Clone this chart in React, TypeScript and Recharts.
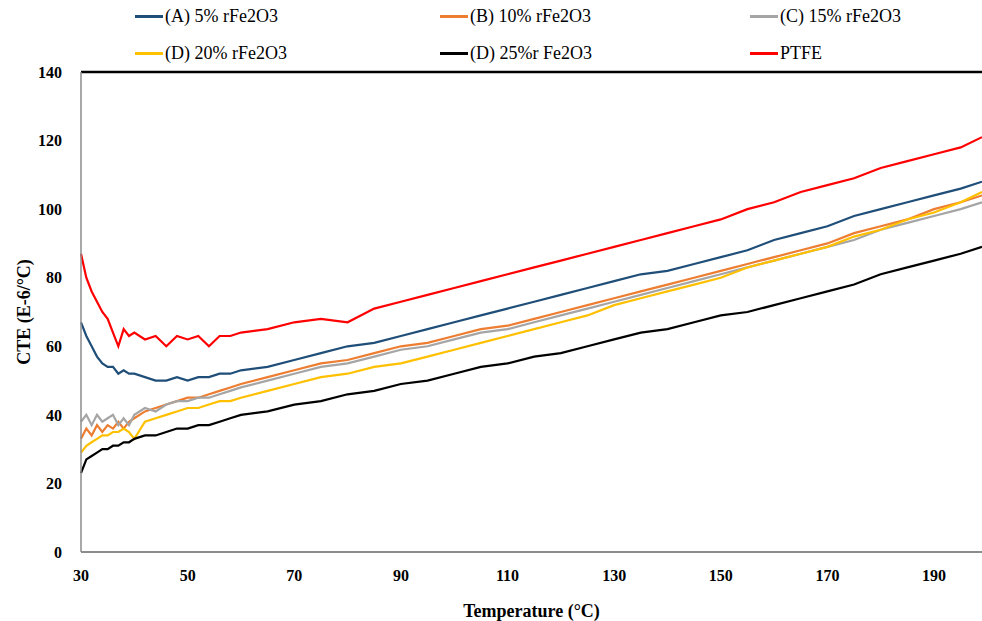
import React from "react";
import {
  LineChart,
  Line,
  XAxis,
  YAxis,
  ReferenceLine,
} from "recharts";

// temperature (°C) sample points
const temps = [
  30, 31, 32, 33, 34, 35, 36, 37, 38, 39, 40, 42, 44, 46, 48, 50, 52, 54, 56, 58, 60,
  65, 70, 75, 80, 85, 90, 95, 100, 105, 110, 115, 120, 125, 130, 135, 140, 145, 150,
  155, 160, 165, 170, 175, 180, 185, 190, 195, 199,
];

// CTE (E-6/°C) per sample
const ctePct5 = [
  67, 63, 60, 57, 55, 54, 54, 52, 53, 52, 52, 51, 50, 50, 51, 50, 51, 51, 52, 52, 53,
  54, 56, 58, 60, 61, 63, 65, 67, 69, 71, 73, 75, 77, 79, 81, 82, 84, 86,
  88, 91, 93, 95, 98, 100, 102, 104, 106, 108,
];
const ctePct10 = [
  33, 36, 34, 37, 35, 37, 36, 38, 36, 38, 39, 41, 42, 43, 44, 45, 45, 46, 47, 48, 49,
  51, 53, 55, 56, 58, 60, 61, 63, 65, 66, 68, 70, 72, 74, 76, 78, 80, 82,
  84, 86, 88, 90, 93, 95, 97, 100, 102, 104,
];
const ctePct15 = [
  38, 40, 37, 40, 38, 39, 40, 37, 39, 37, 40, 42, 41, 43, 44, 44, 45, 45, 46, 47, 48,
  50, 52, 54, 55, 57, 59, 60, 62, 64, 65, 67, 69, 71, 73, 75, 77, 79, 81,
  83, 85, 87, 89, 91, 94, 96, 98, 100, 102,
];
const ctePct20 = [
  29, 31, 32, 33, 34, 34, 35, 35, 36, 35, 33, 38, 39, 40, 41, 42, 42, 43, 44, 44, 45,
  47, 49, 51, 52, 54, 55, 57, 59, 61, 63, 65, 67, 69, 72, 74, 76, 78, 80,
  83, 85, 87, 89, 92, 94, 97, 99, 102, 105,
];
const ctePct25 = [
  23, 27, 28, 29, 30, 30, 31, 31, 32, 32, 33, 34, 34, 35, 36, 36, 37, 37, 38, 39, 40,
  41, 43, 44, 46, 47, 49, 50, 52, 54, 55, 57, 58, 60, 62, 64, 65, 67, 69,
  70, 72, 74, 76, 78, 81, 83, 85, 87, 89,
];
const ctePtfe = [
  87, 80, 76, 73, 70, 68, 64, 60, 65, 63, 64, 62, 63, 60, 63, 62, 63, 60, 63, 63, 64,
  65, 67, 68, 67, 71, 73, 75, 77, 79, 81, 83, 85, 87, 89, 91, 93, 95, 97,
  100, 102, 105, 107, 109, 112, 114, 116, 118, 121,
];

const xTicks = [30, 50, 70, 90, 110, 130, 150, 170, 190];
const yTicks = [0, 20, 40, 60, 80, 100, 120, 140];

const series = [
  { key: "a", name: "(A) 5% rFe2O3", color: "#1f4e79", values: ctePct5 },
  { key: "b", name: "(B) 10% rFe2O3", color: "#ed7d31", values: ctePct10 },
  { key: "c", name: "(C) 15% rFe2O3", color: "#a5a5a5", values: ctePct15 },
  { key: "d", name: "(D) 20% rFe2O3", color: "#ffc000", values: ctePct20 },
  { key: "e", name: "(D) 25%r Fe2O3", color: "#000000", values: ctePct25 },
  { key: "f", name: "PTFE", color: "#ff0000", values: ctePtfe },
];

const data = temps.map((t, i) => {
  const row: Record<string, number> = { t };
  series.forEach((s) => (row[s.key] = s.values[i]));
  return row;
});

const FONT = '"Liberation Serif", "DejaVu Serif", serif';

function LegendBox() {
  return (
    <div style={{ position: "absolute", left: 0, top: 0, fontFamily: FONT, fontSize: 18, color: "#000" }}>
      {series.map((s, i) => (
        <div
          key={s.key}
          style={{
            position: "absolute",
            left: [135, 440, 750][i % 3],
            top: i < 3 ? 6 : 43,
            display: "flex",
            alignItems: "center",
            whiteSpace: "nowrap",
          }}
        >
          <span
            style={{
              display: "inline-block",
              width: 28,
              height: 3,
              backgroundColor: s.color,
              marginRight: 2,
            }}
          />
          {s.name}
        </div>
      ))}
    </div>
  );
}

export default function App() {
  return (
    <div style={{ position: "absolute", left: 0, top: 0, width: 982, height: 621, background: "#fff" }}>
      <LineChart
        width={982}
        height={621}
        data={data}
        margin={{ top: 72, right: 0, bottom: 0, left: 0 }}
      >
        <XAxis
          dataKey="t"
          type="number"
          domain={[30, 199]}
          ticks={xTicks}
          height={69}
          tickLine={false}
          tickSize={0}
          tickMargin={18}
          stroke="#8c8c8c"
          strokeWidth={2}
          tick={{ fill: "#000", fontFamily: FONT, fontSize: 16, fontWeight: 700 }}
          label={{
            value: "Temperature (°C)",
            position: "insideBottom",
            offset: 4,
            style: { fill: "#000", fontFamily: FONT, fontSize: 18, fontWeight: 700 },
          }}
        />
        <YAxis
          type="number"
          domain={[0, 140]}
          ticks={yTicks}
          width={81}
          tickLine={false}
          tickSize={0}
          tickMargin={19}
          stroke="#8c8c8c"
          strokeWidth={1.5}
          tick={{ fill: "#000", fontFamily: FONT, fontSize: 16, fontWeight: 700 }}
          label={{
            value: "CTE (E-6/°C)",
            angle: -90,
            position: "insideLeft",
            offset: 24,
            style: {
              fill: "#000",
              fontFamily: FONT,
              fontSize: 18,
              fontWeight: 700,
              textAnchor: "middle",
            },
          }}
        />
        <ReferenceLine y={140} stroke="#000" strokeWidth={2.5} />
        {series.map((s) => (
          <Line
            key={s.key}
            dataKey={s.key}
            name={s.name}
            type="linear"
            stroke={s.color}
            strokeWidth={2.2}
            dot={false}
            isAnimationActive={false}
          />
        ))}
      </LineChart>
      <LegendBox />
    </div>
  );
}
